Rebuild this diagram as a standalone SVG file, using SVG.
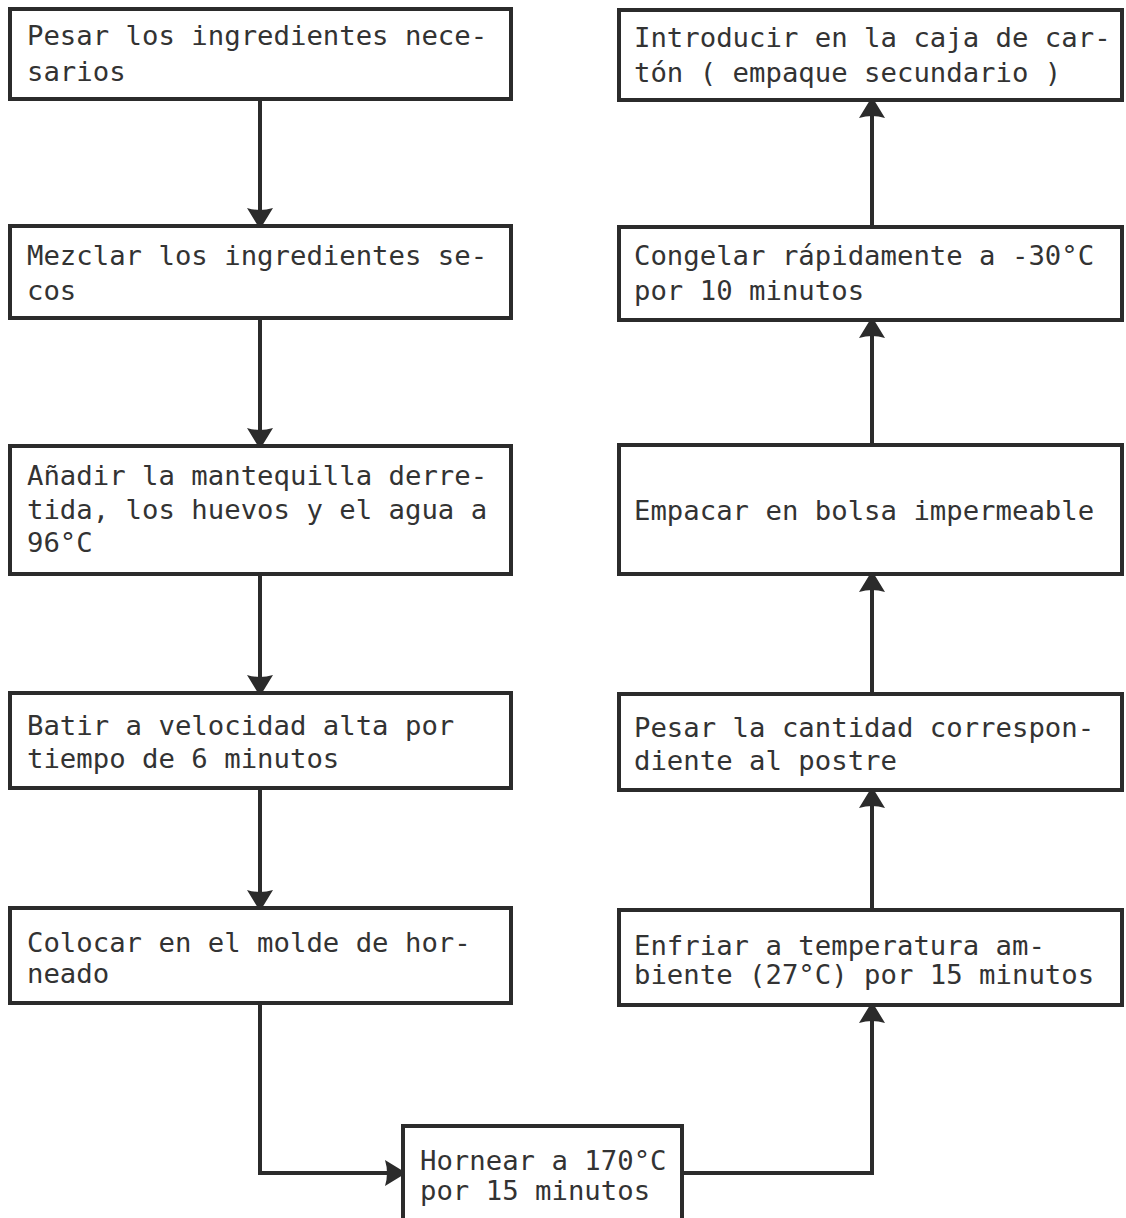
<svg xmlns="http://www.w3.org/2000/svg" width="1126" height="1218" viewBox="0 0 1126 1218">
<style>
.box{fill:#fff;stroke:#2b2b2b;stroke-width:4}
.t{font-family:"DejaVu Sans Mono","Liberation Mono",monospace;font-size:27.3px;fill:#333}
.c{fill:none;stroke:#2b2b2b;stroke-width:4}
</style>
<defs>
<marker id="ah" viewBox="0 0 18 26" refX="18" refY="13" markerWidth="18" markerHeight="26" markerUnits="userSpaceOnUse" orient="auto">
<path d="M0,0 L18,11 L18,15 L0,26 Q4,13 0,0 z" fill="#2b2b2b"/>
</marker>
</defs>
<rect width="1126" height="1218" fill="#fff"/>
<g id="connectors">
<path class="c" d="M260,99 V226" marker-end="url(#ah)"/>
<path class="c" d="M260,318 V446" marker-end="url(#ah)"/>
<path class="c" d="M260,574 V693" marker-end="url(#ah)"/>
<path class="c" d="M260,788 V908" marker-end="url(#ah)"/>
<path class="c" d="M260,1003 V1173 H403" marker-end="url(#ah)"/>
<path class="c" d="M682,1173 H872 V1005" marker-end="url(#ah)"/>
<path class="c" d="M872,910 V790" marker-end="url(#ah)"/>
<path class="c" d="M872,694 V574" marker-end="url(#ah)"/>
<path class="c" d="M872,445 V320" marker-end="url(#ah)"/>
<path class="c" d="M872,227 V100" marker-end="url(#ah)"/>
</g>
<g id="n1"><rect class="box" x="10" y="9" width="501" height="90"/>
<text class="t" x="27" y="45">Pesar los ingredientes nece-</text>
<text class="t" x="27" y="81">sarios</text></g>
<g id="n2"><rect class="box" x="10" y="226" width="501" height="92"/>
<text class="t" x="27" y="265">Mezclar los ingredientes se-</text>
<text class="t" x="27" y="300">cos</text></g>
<g id="n3"><rect class="box" x="10" y="446" width="501" height="128"/>
<text class="t" x="27" y="485">Añadir la mantequilla derre-</text>
<text class="t" x="27" y="519">tida, los huevos y el agua a</text>
<text class="t" x="27" y="552">96°C</text></g>
<g id="n4"><rect class="box" x="10" y="693" width="501" height="95"/>
<text class="t" x="27" y="735">Batir a velocidad alta por</text>
<text class="t" x="27" y="768">tiempo de 6 minutos</text></g>
<g id="n5"><rect class="box" x="10" y="908" width="501" height="95"/>
<text class="t" x="27" y="952">Colocar en el molde de hor-</text>
<text class="t" x="27" y="983">neado</text></g>
<g id="n6"><rect class="box" x="403" y="1126" width="279" height="110"/>
<text class="t" x="420" y="1170">Hornear a 170°C</text>
<text class="t" x="420" y="1200">por 15 minutos</text></g>
<g id="n7"><rect class="box" x="619" y="910" width="503" height="95"/>
<text class="t" x="634" y="955">Enfriar a temperatura am-</text>
<text class="t" x="634" y="984">biente (27°C) por 15 minutos</text></g>
<g id="n8"><rect class="box" x="619" y="694" width="503" height="96"/>
<text class="t" x="634" y="737">Pesar la cantidad correspon-</text>
<text class="t" x="634" y="770">diente al postre</text></g>
<g id="n9"><rect class="box" x="619" y="445" width="503" height="129"/>
<text class="t" x="634" y="520">Empacar en bolsa impermeable</text></g>
<g id="n10"><rect class="box" x="619" y="227" width="503" height="93"/>
<text class="t" x="634" y="265">Congelar rápidamente a -30°C</text>
<text class="t" x="634" y="300">por 10 minutos</text></g>
<g id="n11"><rect class="box" x="619" y="10" width="503" height="90"/>
<text class="t" x="634" y="47">Introducir en la caja de car-</text>
<text class="t" x="634" y="82">tón ( empaque secundario )</text></g>
</svg>
